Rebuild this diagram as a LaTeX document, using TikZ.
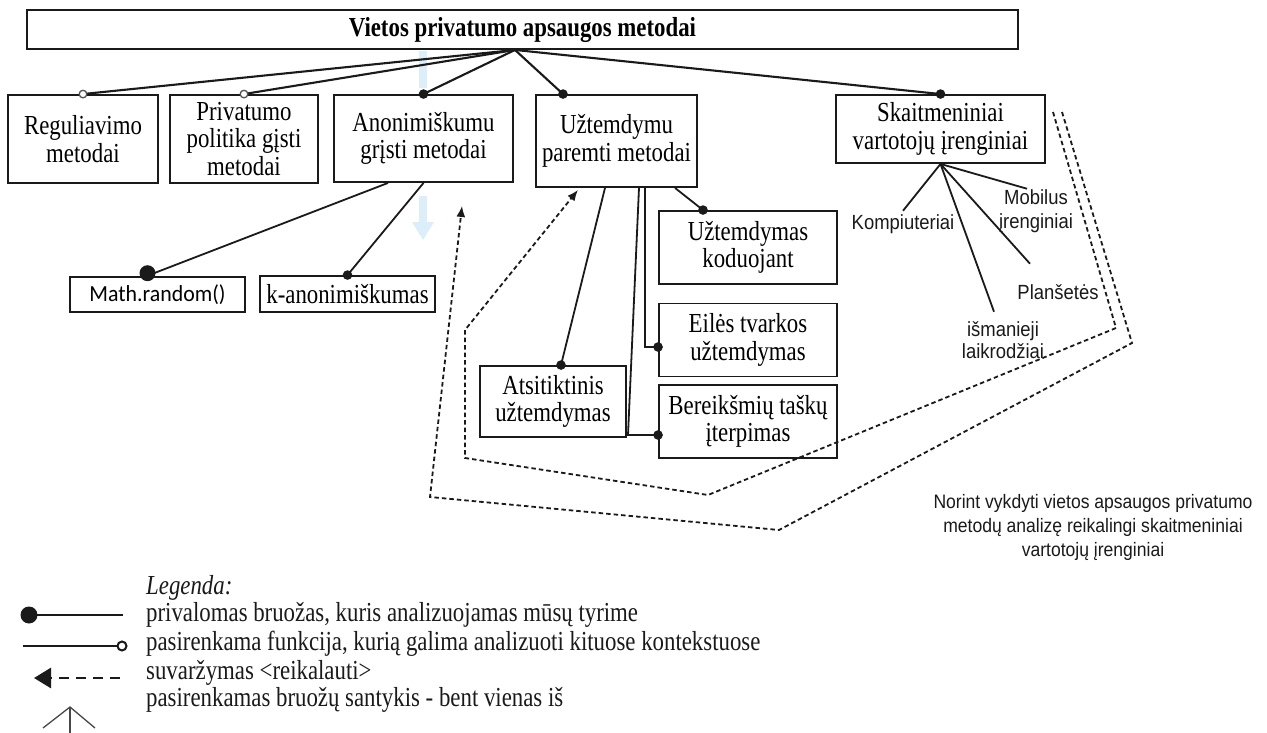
\documentclass[tikz,border=0pt]{standalone}
\usepackage{fontspec}
\setmainfont{Liberation Serif}[FakeStretch=0.83]
\newfontfamily\devfont{Liberation Sans}[FakeStretch=0.9]
\newfontfamily\codefont{Carlito}[FakeStretch=0.95]
\usetikzlibrary{arrows.meta,calc}
\definecolor{ink}{HTML}{1A1A1A}
\definecolor{haze}{HTML}{DCEEFA}
\newcommand\bxfont{\fontsize{27.5}{27.5}\selectfont}
\newcommand\dvfont{\devfont\fontsize{20.5}{24}\selectfont}
\newcommand\ntfont{\devfont\fontsize{19.5}{24}\selectfont}
\begin{document}
\begin{tikzpicture}[x=1pt,y=-1pt,
  box/.style={draw=ink, line width=1.9pt, fill=white, align=center, inner sep=0pt, font=\bxfont},
  link/.style={draw=ink, line width=2.1pt},
  sublink/.style={draw=ink, line width=1.8pt},
  dline/.style={draw=ink, line width=1.8pt, dash pattern=on 4.5pt off 3pt},
  tip/.style={-{Latex[length=11pt,width=9pt]}},
  opendot/.style={draw=ink!75, line width=1.3pt, fill=white},
  tag/.style={align=center, inner sep=1.5pt, font=\dvfont, text=ink},
  legtext/.style={anchor=west, inner sep=0pt, font=\bxfont, text=ink}]
\useasboundingbox (0,0) rectangle (1267,733);
\fill[white] (0,0) rectangle (1267,733);

% ---- boxes ----
\node[box, font=\bxfont\bfseries, minimum width=991pt, minimum height=39pt] (title) at (522.5,29.5) {Vietos privatumo apsaugos metodai};

\node[box, minimum width=150pt, minimum height=88pt] (reg)   at (83,139)    {Reguliavimo\\metodai};
\node[box, minimum width=148pt, minimum height=88pt] (priv)  at (244,139)   {Privatumo\\politika gįsti\\metodai};
\node[box, minimum width=179pt, minimum height=87pt] (anon)  at (423.5,138.5) {Anonimiškumu\\grįsti metodai};
\node[box, minimum width=161pt, minimum height=92pt] (uzt)   at (616.5,141) {Užtemdymu\\paremti metodai};
\node[box, minimum width=209pt, minimum height=68pt] (skait) at (940.5,129) {Skaitmeniniai\\vartotojų įrenginiai};

\node[box, line width=2.6pt, font=\codefont\fontsize{23}{26}\selectfont, minimum width=175pt, minimum height=35pt] (math) at (157.5,294.5) {Math.random()};
\node[box, minimum width=175pt, minimum height=36pt] (kanon) at (347.5,294) {k-anonimiškumas};

\node[box, minimum width=178pt, minimum height=73pt] (kod)   at (748,247.5) {Užtemdymas\\koduojant};
\node[box, minimum width=178pt, minimum height=73pt] (eil)   at (748,340)   {Eilės tvarkos\\užtemdymas};
\node[box, minimum width=178pt, minimum height=73pt] (bere)  at (748,421.5) {Bereikšmių taškų\\įterpimas};
\node[box, minimum width=146pt, minimum height=71pt] (atsit) at (553,401.5) {Atsitiktinis\\užtemdymas};

% faint arrow shapes behind the tree
\fill[haze] (419,51) rectangle (427,88);
\fill[haze] (419,196) rectangle (427,224);
\fill[haze] (412,222) -- (434,222) -- (423,240) -- cycle;

% ---- device labels ----
\node[tag] (komp)  at (903,224)  {Kompiuteriai};
\node[tag] (mob)   at (1036,211) {Mobilus\\įrenginiai};
\node[tag] (plan)  at (1058,292) {Planšetės};
\node[tag, font=\devfont\fontsize{20.5}{22}\selectfont] (isman) at (1003,340) {išmanieji\\laikrodžiai};

\node[align=center, inner sep=0pt, font=\ntfont, text=ink] (note) at (1093,527)
  {Norint vykdyti vietos apsaugos privatumo\\metodų analizę reikalingi skaitmeniniai\\vartotojų įrenginiai};

% ---- top level connectors ----
\coordinate (hub) at ([xshift=-7.5pt]title.south);
\coordinate (uztTop) at ([xshift=-53.5pt]uzt.north);
\draw[link] (hub) -- (reg.north);
\draw[link] (hub) -- (priv.north);
\draw[link] (hub) -- (anon.north);
\draw[link] (hub) -- (uztTop);
\draw[link] (hub) -- (skait.north);
\draw[opendot] (reg.north) circle (3.8pt);
\draw[opendot] (priv.north) circle (3.8pt);
\fill[ink] (anon.north) circle (4.8pt);
\fill[ink] (uztTop) circle (4.8pt);
\fill[ink] (skait.north) circle (4.8pt);

% ---- anonymity children ----
\coordinate (mathTop) at ([xshift=-10pt]math.north);
\draw[sublink] ([xshift=-35.5pt]anon.south) -- (mathTop);
\draw[sublink] (anon.south) -- (kanon.north);
\fill[ink] ([yshift=2.5pt]mathTop) circle (8pt);
\fill[ink] (kanon.north) circle (4.8pt);

% ---- obfuscation children ----
\coordinate (kodTop) at ([xshift=-45pt]kod.north);
\coordinate (eilIn)  at ([yshift=-7pt]eil.west);
\coordinate (bereIn) at ([yshift=-13.5pt]bere.west);
\coordinate (bereKnee) at (628,435);
\coordinate (atsTop) at ([xshift=8pt]atsit.north);
\draw[sublink] ([xshift=58.5pt]uzt.south) -- (kodTop);
\draw[sublink] ([xshift=28.5pt]uzt.south) |- (eilIn);
\draw[sublink] ([xshift=22.5pt]uzt.south) -- (bereKnee) -- (bereIn);
\draw[sublink] ([xshift=-11.5pt]uzt.south) -- (atsTop);
\fill[ink] (kodTop) circle (4.8pt);
\fill[ink] (eilIn) circle (4.8pt);
\fill[ink] (bereIn) circle (4.8pt);
\fill[ink] (atsTop) circle (4.8pt);

% ---- device children ----
\draw[sublink] (skait.south) -- ([yshift=2pt]komp.north);
\draw[sublink] (skait.south) -- ([xshift=-9pt,yshift=8pt]isman.north);
\draw[sublink] (skait.south) -- ([xshift=-28pt,yshift=19pt]plan.north);
\draw[sublink] (skait.south) -- ([xshift=-9pt,yshift=-1pt]mob.north);

% ---- requirement constraints ----
\coordinate (dO1) at (1062,112);
\coordinate (dO2) at (1132,343);
\coordinate (dO3) at (779,530);
\coordinate (dO4) at (430,497);
\coordinate (tipA) at ([xshift=38.5pt,yshift=-23pt]anon.south);
\draw[dline, tip] (dO1) -- (dO2) -- (dO3) -- (dO4) -- (tipA);

\coordinate (dI1) at (1053,112);
\coordinate (dI2) at (1116,328);
\coordinate (dI3) at (708,495);
\coordinate (dI4) at (465,458);
\coordinate (dI5) at (465,330);
\coordinate (tipU) at ([xshift=-38.5pt,yshift=-2pt]uzt.south);
\draw[dline, tip] (dI1) -- (dI2) -- (dI3) -- (dI4) -- (dI5) -- (tipU);

% ---- legend ----
\node[legtext, font=\bxfont\itshape] (legT) at (146,588) {Legenda:};
\node[legtext] (leg1) at (146,615) {privalomas bruožas, kuris analizuojamas mūsų tyrime};
\node[legtext] (leg2) at (146,644) {pasirenkama funkcija, kurią galima analizuoti kituose kontekstuose};
\node[legtext] (leg3) at (146,673) {suvaržymas <reikalauti>};
\node[legtext] (leg4) at (146,700) {pasirenkamas bruožų santykis - bent vienas iš};

\coordinate (s1a) at (29,615);  \coordinate (s1b) at (123,615);
\draw[ink, line width=2.4pt] (s1a) -- (s1b);
\fill[ink] (s1a) circle (8.5pt);

\coordinate (s2a) at (23,646);  \coordinate (s2b) at (118,646);
\draw[ink, line width=2.4pt] (s2a) -- (s2b);
\draw[ink, line width=2pt, fill=white] ([xshift=4pt]s2b) circle (4.5pt);

\coordinate (s3a) at (120,678); \coordinate (s3b) at (34,678);
\draw[ink, line width=2.8pt, dash pattern=on 10pt off 7pt, -{Triangle[length=17pt,width=20pt]}] (s3a) -- (s3b);

\coordinate (s4top) at (70,707);
\draw[ink!80, line width=1.3pt] (43,728) -- (s4top) -- (95,728);
\draw[ink!80, line width=1.3pt] (s4top) -- (70,733);
\end{tikzpicture}
\end{document}
